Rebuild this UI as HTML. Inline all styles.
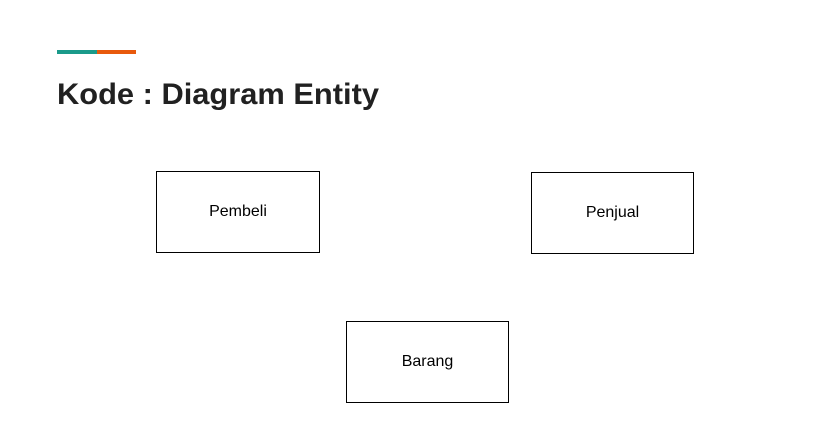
<!DOCTYPE html>
<html><head><style>
html,body{margin:0;padding:0;background:#fff;}
body{width:840px;height:448px;position:relative;overflow:hidden;font-family:"Liberation Sans",sans-serif;}
.b{position:absolute;border:1px solid #000;box-sizing:border-box;display:flex;align-items:center;justify-content:center;font-size:16px;color:#000;}
</style></head><body>
<div style="position:absolute;left:57px;top:50px;width:40px;height:4px;background:#1a9a8a"></div>
<div style="position:absolute;left:97px;top:50px;width:39px;height:4px;background:#e8590c"></div>
<svg style="position:absolute;left:0;top:0" width="840" height="448">
<text x="57" y="104" font-family="Liberation Sans, sans-serif" font-weight="bold" font-size="30" fill="#212121" textLength="322" lengthAdjust="spacingAndGlyphs">Kode : Diagram Entity</text>
</svg>
<div class="b" style="left:156px;top:171px;width:164px;height:82px">Pembeli</div>
<div class="b" style="left:531px;top:172px;width:163px;height:82px">Penjual</div>
<div class="b" style="left:346px;top:321px;width:163px;height:82px">Barang</div>
</body></html>
